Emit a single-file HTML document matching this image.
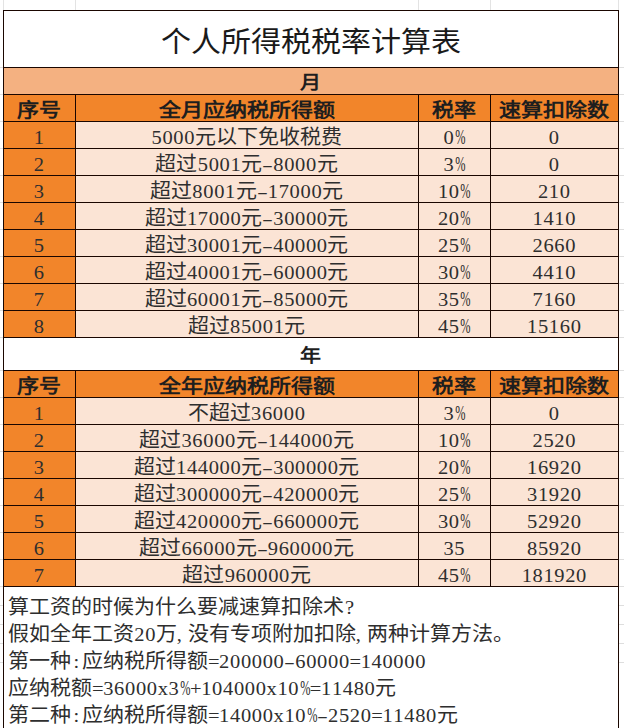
<!DOCTYPE html><html lang="zh-CN"><head><meta charset="utf-8"><style>
html,body{margin:0;padding:0}
body{width:624px;height:728px;overflow:hidden;background:#fff;position:relative;font-family:"Liberation Serif",serif;color:#2e2e2e}
.b{position:absolute}
.t{position:absolute;text-align:center;white-space:nowrap;font-size:21px;transform:scaleY(.95)}
.yn{transform:scaleY(.88)}
.title{font-size:30px;color:#1a1a1a;transform:scaleY(.96)}
.bold{font-weight:bold;color:#1e1e1e}
.hd{font-size:22px;transform:scaleY(.86)}
.h{display:inline-block;width:10.9px;text-align:center;font-style:normal;font-size:20.5px}
.p{transform:translateX(-1px) scale(.6,1.08);transform-origin:50% 70%}
.m{transform:scaleX(1.6)}
.c{text-align:left}
.note{position:absolute;left:8px;height:27px;line-height:27px;font-size:21px;white-space:nowrap;transform:scaleY(.95)}
</style></head><body><div class="b" style="left:3px;top:67px;width:616px;height:27px;background:#F4B181;"></div><div class="b" style="left:3px;top:94px;width:616px;height:27px;background:#F2852A;"></div><div class="b" style="left:3px;top:370px;width:616px;height:27px;background:#F2852A;"></div><div class="b" style="left:3px;top:121px;width:72px;height:216px;background:#F2852A;"></div><div class="b" style="left:3px;top:397px;width:72px;height:189px;background:#F2852A;"></div><div class="b" style="left:75px;top:121px;width:544px;height:216px;background:#FBE4D5;"></div><div class="b" style="left:75px;top:397px;width:544px;height:189px;background:#FBE4D5;"></div><div class="b" style="left:3px;top:0px;width:1px;height:10px;background:#e3e3e3;"></div><div class="b" style="left:75px;top:0px;width:1px;height:10px;background:#e3e3e3;"></div><div class="b" style="left:418px;top:0px;width:1px;height:10px;background:#e3e3e3;"></div><div class="b" style="left:490px;top:0px;width:1px;height:10px;background:#e3e3e3;"></div><div class="b" style="left:618px;top:0px;width:1px;height:10px;background:#e3e3e3;"></div><div class="b" style="left:0px;top:67px;width:3px;height:1px;background:#dedede;"></div><div class="b" style="left:619px;top:67px;width:5px;height:1px;background:#dedede;"></div><div class="b" style="left:0px;top:94px;width:3px;height:1px;background:#dedede;"></div><div class="b" style="left:619px;top:94px;width:5px;height:1px;background:#dedede;"></div><div class="b" style="left:0px;top:121px;width:3px;height:1px;background:#dedede;"></div><div class="b" style="left:619px;top:121px;width:5px;height:1px;background:#dedede;"></div><div class="b" style="left:0px;top:148px;width:3px;height:1px;background:#dedede;"></div><div class="b" style="left:619px;top:148px;width:5px;height:1px;background:#dedede;"></div><div class="b" style="left:0px;top:175px;width:3px;height:1px;background:#dedede;"></div><div class="b" style="left:619px;top:175px;width:5px;height:1px;background:#dedede;"></div><div class="b" style="left:0px;top:202px;width:3px;height:1px;background:#dedede;"></div><div class="b" style="left:619px;top:202px;width:5px;height:1px;background:#dedede;"></div><div class="b" style="left:0px;top:229px;width:3px;height:1px;background:#dedede;"></div><div class="b" style="left:619px;top:229px;width:5px;height:1px;background:#dedede;"></div><div class="b" style="left:0px;top:256px;width:3px;height:1px;background:#dedede;"></div><div class="b" style="left:619px;top:256px;width:5px;height:1px;background:#dedede;"></div><div class="b" style="left:0px;top:283px;width:3px;height:1px;background:#dedede;"></div><div class="b" style="left:619px;top:283px;width:5px;height:1px;background:#dedede;"></div><div class="b" style="left:0px;top:310px;width:3px;height:1px;background:#dedede;"></div><div class="b" style="left:619px;top:310px;width:5px;height:1px;background:#dedede;"></div><div class="b" style="left:0px;top:337px;width:3px;height:1px;background:#dedede;"></div><div class="b" style="left:619px;top:337px;width:5px;height:1px;background:#dedede;"></div><div class="b" style="left:0px;top:370px;width:3px;height:1px;background:#dedede;"></div><div class="b" style="left:619px;top:370px;width:5px;height:1px;background:#dedede;"></div><div class="b" style="left:0px;top:397px;width:3px;height:1px;background:#dedede;"></div><div class="b" style="left:619px;top:397px;width:5px;height:1px;background:#dedede;"></div><div class="b" style="left:0px;top:424px;width:3px;height:1px;background:#dedede;"></div><div class="b" style="left:619px;top:424px;width:5px;height:1px;background:#dedede;"></div><div class="b" style="left:0px;top:451px;width:3px;height:1px;background:#dedede;"></div><div class="b" style="left:619px;top:451px;width:5px;height:1px;background:#dedede;"></div><div class="b" style="left:0px;top:478px;width:3px;height:1px;background:#dedede;"></div><div class="b" style="left:619px;top:478px;width:5px;height:1px;background:#dedede;"></div><div class="b" style="left:0px;top:505px;width:3px;height:1px;background:#dedede;"></div><div class="b" style="left:619px;top:505px;width:5px;height:1px;background:#dedede;"></div><div class="b" style="left:0px;top:532px;width:3px;height:1px;background:#dedede;"></div><div class="b" style="left:619px;top:532px;width:5px;height:1px;background:#dedede;"></div><div class="b" style="left:0px;top:559px;width:3px;height:1px;background:#dedede;"></div><div class="b" style="left:619px;top:559px;width:5px;height:1px;background:#dedede;"></div><div class="b" style="left:0px;top:586px;width:3px;height:1px;background:#dedede;"></div><div class="b" style="left:619px;top:586px;width:5px;height:1px;background:#dedede;"></div><div class="b" style="left:0px;top:605px;width:3px;height:1px;background:#dedede;"></div><div class="b" style="left:619px;top:605px;width:5px;height:1px;background:#dedede;"></div><div class="b" style="left:0px;top:624px;width:3px;height:1px;background:#dedede;"></div><div class="b" style="left:619px;top:624px;width:5px;height:1px;background:#dedede;"></div><div class="b" style="left:0px;top:643px;width:3px;height:1px;background:#dedede;"></div><div class="b" style="left:619px;top:643px;width:5px;height:1px;background:#dedede;"></div><div class="b" style="left:0px;top:662px;width:3px;height:1px;background:#dedede;"></div><div class="b" style="left:619px;top:662px;width:5px;height:1px;background:#dedede;"></div><div class="b" style="left:3px;top:10px;width:616px;height:1px;background:#1a0600;"></div><div class="b" style="left:3px;top:67px;width:616px;height:1px;background:#1a0600;"></div><div class="b" style="left:3px;top:94px;width:616px;height:1px;background:#1a0600;"></div><div class="b" style="left:3px;top:121px;width:616px;height:1px;background:#1a0600;"></div><div class="b" style="left:3px;top:148px;width:616px;height:1px;background:#1a0600;"></div><div class="b" style="left:3px;top:175px;width:616px;height:1px;background:#1a0600;"></div><div class="b" style="left:3px;top:202px;width:616px;height:1px;background:#1a0600;"></div><div class="b" style="left:3px;top:229px;width:616px;height:1px;background:#1a0600;"></div><div class="b" style="left:3px;top:256px;width:616px;height:1px;background:#1a0600;"></div><div class="b" style="left:3px;top:283px;width:616px;height:1px;background:#1a0600;"></div><div class="b" style="left:3px;top:310px;width:616px;height:1px;background:#1a0600;"></div><div class="b" style="left:3px;top:337px;width:616px;height:1px;background:#1a0600;"></div><div class="b" style="left:3px;top:370px;width:616px;height:1px;background:#1a0600;"></div><div class="b" style="left:3px;top:397px;width:616px;height:1px;background:#1a0600;"></div><div class="b" style="left:3px;top:424px;width:616px;height:1px;background:#1a0600;"></div><div class="b" style="left:3px;top:451px;width:616px;height:1px;background:#1a0600;"></div><div class="b" style="left:3px;top:478px;width:616px;height:1px;background:#1a0600;"></div><div class="b" style="left:3px;top:505px;width:616px;height:1px;background:#1a0600;"></div><div class="b" style="left:3px;top:532px;width:616px;height:1px;background:#1a0600;"></div><div class="b" style="left:3px;top:559px;width:616px;height:1px;background:#1a0600;"></div><div class="b" style="left:3px;top:586px;width:616px;height:1px;background:#1a0600;"></div><div class="b" style="left:3px;top:10px;width:1px;height:718px;background:#1a0600;"></div><div class="b" style="left:618px;top:10px;width:1px;height:718px;background:#1a0600;"></div><div class="b" style="left:75px;top:94px;width:1px;height:243px;background:#1a0600;"></div><div class="b" style="left:75px;top:370px;width:1px;height:216px;background:#1a0600;"></div><div class="b" style="left:418px;top:94px;width:1px;height:243px;background:#1a0600;"></div><div class="b" style="left:418px;top:370px;width:1px;height:216px;background:#1a0600;"></div><div class="b" style="left:490px;top:94px;width:1px;height:243px;background:#1a0600;"></div><div class="b" style="left:490px;top:370px;width:1px;height:216px;background:#1a0600;"></div><div class="t title" style="left:3px;width:615px;top:12.5px;height:57px;line-height:57px;">个人所得税税率计算表</div><div class="t bold yn" style="left:3px;width:615px;top:70px;height:27px;line-height:27px;">月</div><div class="t bold yn" style="left:3px;width:615px;top:340px;height:33px;line-height:33px;">年</div><div class="t bold hd" style="left:3px;width:72px;top:97px;height:27px;line-height:27px;">序号</div><div class="t bold hd" style="left:75px;width:343px;top:97px;height:27px;line-height:27px;">全月应纳税所得额</div><div class="t bold hd" style="left:418px;width:72px;top:97px;height:27px;line-height:27px;">税率</div><div class="t bold hd" style="left:490px;width:128px;top:97px;height:27px;line-height:27px;">速算扣除数</div><div class="t bold hd" style="left:3px;width:72px;top:373px;height:27px;line-height:27px;">序号</div><div class="t bold hd" style="left:75px;width:343px;top:373px;height:27px;line-height:27px;">全年应纳税所得额</div><div class="t bold hd" style="left:418px;width:72px;top:373px;height:27px;line-height:27px;">税率</div><div class="t bold hd" style="left:490px;width:128px;top:373px;height:27px;line-height:27px;">速算扣除数</div><div class="t cell" style="left:3px;width:72px;top:124px;height:27px;line-height:27px;"><i class="h">1</i></div><div class="t cell" style="left:75px;width:343px;top:124px;height:27px;line-height:27px;"><i class="h">5</i><i class="h">0</i><i class="h">0</i><i class="h">0</i>元以下免收税费</div><div class="t cell" style="left:418px;width:72px;top:124px;height:27px;line-height:27px;"><i class="h">0</i><i class="h p">%</i></div><div class="t cell" style="left:490px;width:128px;top:124px;height:27px;line-height:27px;"><i class="h">0</i></div><div class="t cell" style="left:3px;width:72px;top:151px;height:27px;line-height:27px;"><i class="h">2</i></div><div class="t cell" style="left:75px;width:343px;top:151px;height:27px;line-height:27px;">超过<i class="h">5</i><i class="h">0</i><i class="h">0</i><i class="h">1</i>元<i class="h m">-</i><i class="h">8</i><i class="h">0</i><i class="h">0</i><i class="h">0</i>元</div><div class="t cell" style="left:418px;width:72px;top:151px;height:27px;line-height:27px;"><i class="h">3</i><i class="h p">%</i></div><div class="t cell" style="left:490px;width:128px;top:151px;height:27px;line-height:27px;"><i class="h">0</i></div><div class="t cell" style="left:3px;width:72px;top:178px;height:27px;line-height:27px;"><i class="h">3</i></div><div class="t cell" style="left:75px;width:343px;top:178px;height:27px;line-height:27px;">超过<i class="h">8</i><i class="h">0</i><i class="h">0</i><i class="h">1</i>元<i class="h m">-</i><i class="h">1</i><i class="h">7</i><i class="h">0</i><i class="h">0</i><i class="h">0</i>元</div><div class="t cell" style="left:418px;width:72px;top:178px;height:27px;line-height:27px;"><i class="h">1</i><i class="h">0</i><i class="h p">%</i></div><div class="t cell" style="left:490px;width:128px;top:178px;height:27px;line-height:27px;"><i class="h">2</i><i class="h">1</i><i class="h">0</i></div><div class="t cell" style="left:3px;width:72px;top:205px;height:27px;line-height:27px;"><i class="h">4</i></div><div class="t cell" style="left:75px;width:343px;top:205px;height:27px;line-height:27px;">超过<i class="h">1</i><i class="h">7</i><i class="h">0</i><i class="h">0</i><i class="h">0</i>元<i class="h m">-</i><i class="h">3</i><i class="h">0</i><i class="h">0</i><i class="h">0</i><i class="h">0</i>元</div><div class="t cell" style="left:418px;width:72px;top:205px;height:27px;line-height:27px;"><i class="h">2</i><i class="h">0</i><i class="h p">%</i></div><div class="t cell" style="left:490px;width:128px;top:205px;height:27px;line-height:27px;"><i class="h">1</i><i class="h">4</i><i class="h">1</i><i class="h">0</i></div><div class="t cell" style="left:3px;width:72px;top:232px;height:27px;line-height:27px;"><i class="h">5</i></div><div class="t cell" style="left:75px;width:343px;top:232px;height:27px;line-height:27px;">超过<i class="h">3</i><i class="h">0</i><i class="h">0</i><i class="h">0</i><i class="h">1</i>元<i class="h m">-</i><i class="h">4</i><i class="h">0</i><i class="h">0</i><i class="h">0</i><i class="h">0</i>元</div><div class="t cell" style="left:418px;width:72px;top:232px;height:27px;line-height:27px;"><i class="h">2</i><i class="h">5</i><i class="h p">%</i></div><div class="t cell" style="left:490px;width:128px;top:232px;height:27px;line-height:27px;"><i class="h">2</i><i class="h">6</i><i class="h">6</i><i class="h">0</i></div><div class="t cell" style="left:3px;width:72px;top:259px;height:27px;line-height:27px;"><i class="h">6</i></div><div class="t cell" style="left:75px;width:343px;top:259px;height:27px;line-height:27px;">超过<i class="h">4</i><i class="h">0</i><i class="h">0</i><i class="h">0</i><i class="h">1</i>元<i class="h m">-</i><i class="h">6</i><i class="h">0</i><i class="h">0</i><i class="h">0</i><i class="h">0</i>元</div><div class="t cell" style="left:418px;width:72px;top:259px;height:27px;line-height:27px;"><i class="h">3</i><i class="h">0</i><i class="h p">%</i></div><div class="t cell" style="left:490px;width:128px;top:259px;height:27px;line-height:27px;"><i class="h">4</i><i class="h">4</i><i class="h">1</i><i class="h">0</i></div><div class="t cell" style="left:3px;width:72px;top:286px;height:27px;line-height:27px;"><i class="h">7</i></div><div class="t cell" style="left:75px;width:343px;top:286px;height:27px;line-height:27px;">超过<i class="h">6</i><i class="h">0</i><i class="h">0</i><i class="h">0</i><i class="h">1</i>元<i class="h m">-</i><i class="h">8</i><i class="h">5</i><i class="h">0</i><i class="h">0</i><i class="h">0</i>元</div><div class="t cell" style="left:418px;width:72px;top:286px;height:27px;line-height:27px;"><i class="h">3</i><i class="h">5</i><i class="h p">%</i></div><div class="t cell" style="left:490px;width:128px;top:286px;height:27px;line-height:27px;"><i class="h">7</i><i class="h">1</i><i class="h">6</i><i class="h">0</i></div><div class="t cell" style="left:3px;width:72px;top:313px;height:27px;line-height:27px;"><i class="h">8</i></div><div class="t cell" style="left:75px;width:343px;top:313px;height:27px;line-height:27px;">超过<i class="h">8</i><i class="h">5</i><i class="h">0</i><i class="h">0</i><i class="h">1</i>元</div><div class="t cell" style="left:418px;width:72px;top:313px;height:27px;line-height:27px;"><i class="h">4</i><i class="h">5</i><i class="h p">%</i></div><div class="t cell" style="left:490px;width:128px;top:313px;height:27px;line-height:27px;"><i class="h">1</i><i class="h">5</i><i class="h">1</i><i class="h">6</i><i class="h">0</i></div><div class="t cell" style="left:3px;width:72px;top:400px;height:27px;line-height:27px;"><i class="h">1</i></div><div class="t cell" style="left:75px;width:343px;top:400px;height:27px;line-height:27px;">不超过<i class="h">3</i><i class="h">6</i><i class="h">0</i><i class="h">0</i><i class="h">0</i></div><div class="t cell" style="left:418px;width:72px;top:400px;height:27px;line-height:27px;"><i class="h">3</i><i class="h p">%</i></div><div class="t cell" style="left:490px;width:128px;top:400px;height:27px;line-height:27px;"><i class="h">0</i></div><div class="t cell" style="left:3px;width:72px;top:427px;height:27px;line-height:27px;"><i class="h">2</i></div><div class="t cell" style="left:75px;width:343px;top:427px;height:27px;line-height:27px;">超过<i class="h">3</i><i class="h">6</i><i class="h">0</i><i class="h">0</i><i class="h">0</i>元<i class="h m">-</i><i class="h">1</i><i class="h">4</i><i class="h">4</i><i class="h">0</i><i class="h">0</i><i class="h">0</i>元</div><div class="t cell" style="left:418px;width:72px;top:427px;height:27px;line-height:27px;"><i class="h">1</i><i class="h">0</i><i class="h p">%</i></div><div class="t cell" style="left:490px;width:128px;top:427px;height:27px;line-height:27px;"><i class="h">2</i><i class="h">5</i><i class="h">2</i><i class="h">0</i></div><div class="t cell" style="left:3px;width:72px;top:454px;height:27px;line-height:27px;"><i class="h">3</i></div><div class="t cell" style="left:75px;width:343px;top:454px;height:27px;line-height:27px;">超过<i class="h">1</i><i class="h">4</i><i class="h">4</i><i class="h">0</i><i class="h">0</i><i class="h">0</i>元<i class="h m">-</i><i class="h">3</i><i class="h">0</i><i class="h">0</i><i class="h">0</i><i class="h">0</i><i class="h">0</i>元</div><div class="t cell" style="left:418px;width:72px;top:454px;height:27px;line-height:27px;"><i class="h">2</i><i class="h">0</i><i class="h p">%</i></div><div class="t cell" style="left:490px;width:128px;top:454px;height:27px;line-height:27px;"><i class="h">1</i><i class="h">6</i><i class="h">9</i><i class="h">2</i><i class="h">0</i></div><div class="t cell" style="left:3px;width:72px;top:481px;height:27px;line-height:27px;"><i class="h">4</i></div><div class="t cell" style="left:75px;width:343px;top:481px;height:27px;line-height:27px;">超过<i class="h">3</i><i class="h">0</i><i class="h">0</i><i class="h">0</i><i class="h">0</i><i class="h">0</i>元<i class="h m">-</i><i class="h">4</i><i class="h">2</i><i class="h">0</i><i class="h">0</i><i class="h">0</i><i class="h">0</i>元</div><div class="t cell" style="left:418px;width:72px;top:481px;height:27px;line-height:27px;"><i class="h">2</i><i class="h">5</i><i class="h p">%</i></div><div class="t cell" style="left:490px;width:128px;top:481px;height:27px;line-height:27px;"><i class="h">3</i><i class="h">1</i><i class="h">9</i><i class="h">2</i><i class="h">0</i></div><div class="t cell" style="left:3px;width:72px;top:508px;height:27px;line-height:27px;"><i class="h">5</i></div><div class="t cell" style="left:75px;width:343px;top:508px;height:27px;line-height:27px;">超过<i class="h">4</i><i class="h">2</i><i class="h">0</i><i class="h">0</i><i class="h">0</i><i class="h">0</i>元<i class="h m">-</i><i class="h">6</i><i class="h">6</i><i class="h">0</i><i class="h">0</i><i class="h">0</i><i class="h">0</i>元</div><div class="t cell" style="left:418px;width:72px;top:508px;height:27px;line-height:27px;"><i class="h">3</i><i class="h">0</i><i class="h p">%</i></div><div class="t cell" style="left:490px;width:128px;top:508px;height:27px;line-height:27px;"><i class="h">5</i><i class="h">2</i><i class="h">9</i><i class="h">2</i><i class="h">0</i></div><div class="t cell" style="left:3px;width:72px;top:535px;height:27px;line-height:27px;"><i class="h">6</i></div><div class="t cell" style="left:75px;width:343px;top:535px;height:27px;line-height:27px;">超过<i class="h">6</i><i class="h">6</i><i class="h">0</i><i class="h">0</i><i class="h">0</i>元<i class="h m">-</i><i class="h">9</i><i class="h">6</i><i class="h">0</i><i class="h">0</i><i class="h">0</i><i class="h">0</i>元</div><div class="t cell" style="left:418px;width:72px;top:535px;height:27px;line-height:27px;"><i class="h">3</i><i class="h">5</i></div><div class="t cell" style="left:490px;width:128px;top:535px;height:27px;line-height:27px;"><i class="h">8</i><i class="h">5</i><i class="h">9</i><i class="h">2</i><i class="h">0</i></div><div class="t cell" style="left:3px;width:72px;top:562px;height:27px;line-height:27px;"><i class="h">7</i></div><div class="t cell" style="left:75px;width:343px;top:562px;height:27px;line-height:27px;">超过<i class="h">9</i><i class="h">6</i><i class="h">0</i><i class="h">0</i><i class="h">0</i><i class="h">0</i>元</div><div class="t cell" style="left:418px;width:72px;top:562px;height:27px;line-height:27px;"><i class="h">4</i><i class="h">5</i><i class="h p">%</i></div><div class="t cell" style="left:490px;width:128px;top:562px;height:27px;line-height:27px;"><i class="h">1</i><i class="h">8</i><i class="h">1</i><i class="h">9</i><i class="h">2</i><i class="h">0</i></div><div class="note" style="top:593.5px">算工资的时候为什么要减速算扣除术<i class="h">?</i></div><div class="note" style="top:620.5px">假如全年工资<i class="h">2</i><i class="h">0</i>万<i class="h c">,</i>没有专项附加扣除<i class="h c">,</i>两种计算方法。</div><div class="note" style="top:647.5px">第一种<i class="h">:</i>应纳税所得额<i class="h">=</i><i class="h">2</i><i class="h">0</i><i class="h">0</i><i class="h">0</i><i class="h">0</i><i class="h">0</i><i class="h m">-</i><i class="h">6</i><i class="h">0</i><i class="h">0</i><i class="h">0</i><i class="h">0</i><i class="h">=</i><i class="h">1</i><i class="h">4</i><i class="h">0</i><i class="h">0</i><i class="h">0</i><i class="h">0</i></div><div class="note" style="top:674.5px">应纳税额<i class="h">=</i><i class="h">3</i><i class="h">6</i><i class="h">0</i><i class="h">0</i><i class="h">0</i><i class="h">x</i><i class="h">3</i><i class="h p">%</i><i class="h">+</i><i class="h">1</i><i class="h">0</i><i class="h">4</i><i class="h">0</i><i class="h">0</i><i class="h">0</i><i class="h">x</i><i class="h">1</i><i class="h">0</i><i class="h p">%</i><i class="h">=</i><i class="h">1</i><i class="h">1</i><i class="h">4</i><i class="h">8</i><i class="h">0</i>元</div><div class="note" style="top:701.5px">第二种<i class="h">:</i>应纳税所得额<i class="h">=</i><i class="h">1</i><i class="h">4</i><i class="h">0</i><i class="h">0</i><i class="h">0</i><i class="h">x</i><i class="h">1</i><i class="h">0</i><i class="h p">%</i><i class="h m">-</i><i class="h">2</i><i class="h">5</i><i class="h">2</i><i class="h">0</i><i class="h">=</i><i class="h">1</i><i class="h">1</i><i class="h">4</i><i class="h">8</i><i class="h">0</i>元</div></body></html>
